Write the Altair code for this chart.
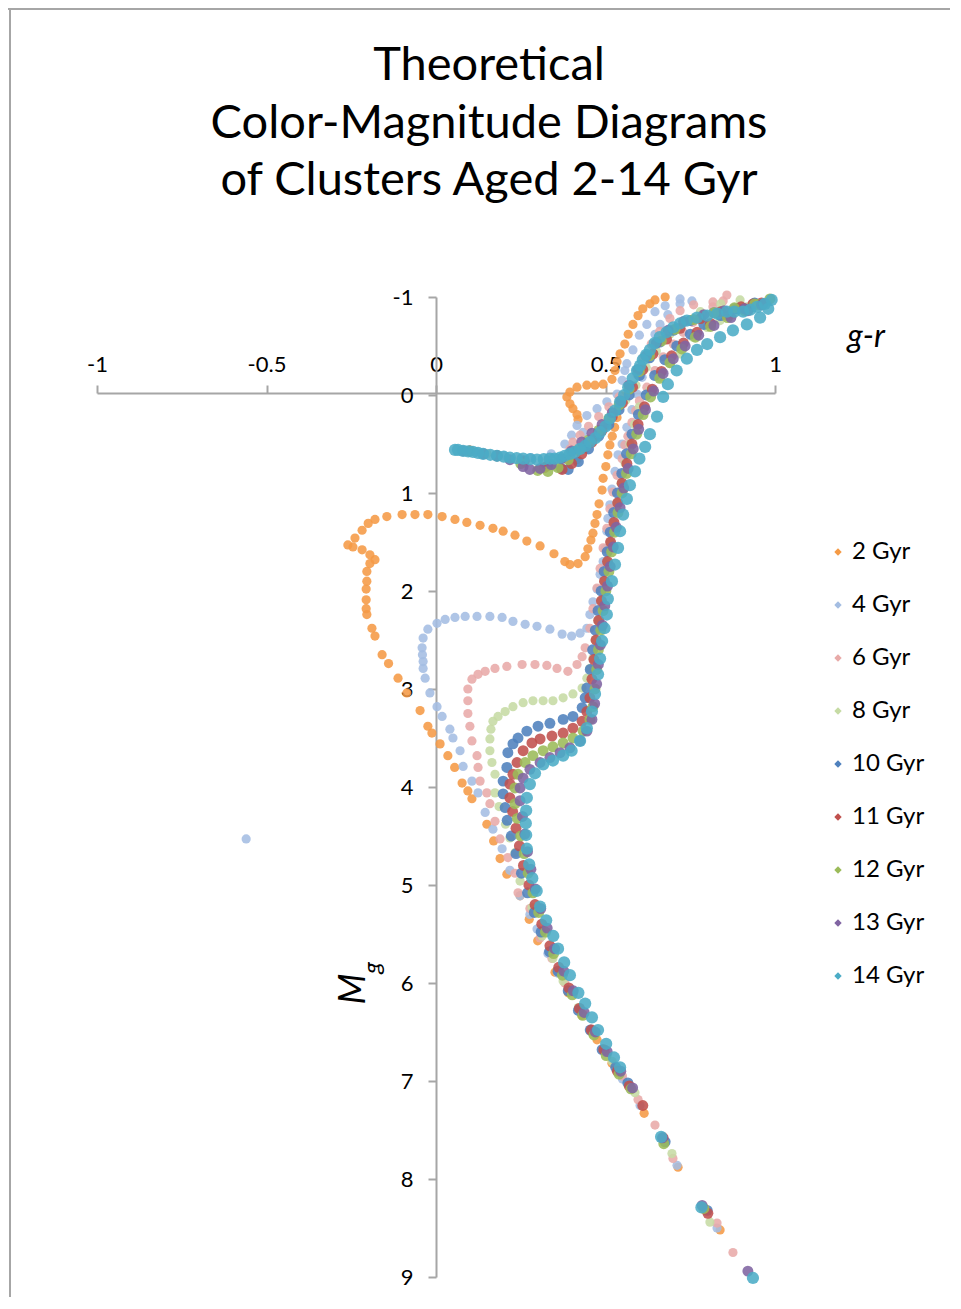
import altair as alt
import pandas as pd

series = ["2 Gyr", "4 Gyr", "6 Gyr", "8 Gyr", "10 Gyr", "11 Gyr", "12 Gyr", "13 Gyr", "14 Gyr"]
colors = ["#F59A45", "#A4BDE2", "#E8AAA8", "#C6DBA4", "#4F81BD", "#C0504D", "#9BBB59", "#8064A2", "#4BACC6"]
sizes = [85, 85, 85, 85, 120, 120, 120, 120, 150]

x_ticks = [-1, -0.5, 0, 0.5, 1]
y_ticks = [-1, 0, 1, 2, 3, 4, 5, 6, 7, 8, 9]

title_lines = ["Theoretical", "Color-Magnitude Diagrams", "of Clusters Aged 2-14 Gyr"]

# (g-r, M_g)
pts_2 = [(0.838, 8.52), (0.714, 7.88), (0.614, 7.33), (0.519, 6.82), (0.475, 6.58), (0.43, 6.33), (0.39, 6.1),
         (0.351, 5.89), (0.30, 5.57), (0.275, 5.35), (0.248, 5.11), (0.209, 4.89), (0.189, 4.73), (0.17, 4.55),
         (0.15, 4.38), (0.106, 4.12), (0.094, 4.04), (0.077, 3.96), (0.055, 3.8), (0.035, 3.68), (0.012, 3.56),
         (-0.012, 3.45), (-0.024, 3.38), (-0.047, 3.22), (-0.086, 3.04), (-0.112, 2.89), (-0.14, 2.74),
         (-0.159, 2.65), (-0.18, 2.46), (-0.189, 2.38), (-0.204, 2.24), (-0.206, 2.18), (-0.206, 2.09),
         (-0.206, 1.98), (-0.204, 1.90), (-0.204, 1.80), (-0.195, 1.72), (-0.18, 1.68), (-0.195, 1.63),
         (-0.218, 1.58), (-0.245, 1.55), (-0.26, 1.53), (-0.239, 1.46), (-0.218, 1.38), (-0.2, 1.31),
         (-0.18, 1.27), (-0.145, 1.24), (-0.10, 1.22), (-0.062, 1.22), (-0.024, 1.22), (0.018, 1.24),
         (0.056, 1.27), (0.091, 1.30), (0.13, 1.33), (0.168, 1.36), (0.198, 1.39), (0.233, 1.43), (0.268, 1.49),
         (0.307, 1.54), (0.348, 1.62), (0.38, 1.70), (0.395, 1.73), (0.419, 1.72), (0.44, 1.65), (0.448, 1.57),
         (0.457, 1.48), (0.463, 1.41), (0.469, 1.31), (0.475, 1.22), (0.481, 1.11), (0.49, 0.97), (0.493, 0.85),
         (0.501, 0.73), (0.507, 0.61), (0.513, 0.51), (0.52, 0.42), (0.527, 0.33), (0.534, 0.23), (0.541, 0.12),
         (0.548, 0.01), (0.419, 0.25), (0.416, 0.20), (0.404, 0.14), (0.395, 0.09), (0.386, 0.02), (0.395, -0.03),
         (0.416, -0.08), (0.445, -0.10), (0.469, -0.10), (0.493, -0.11), (0.519, -0.16), (0.528, -0.25),
         (0.534, -0.34), (0.543, -0.42), (0.557, -0.52), (0.567, -0.62), (0.581, -0.72), (0.596, -0.81),
         (0.61, -0.88), (0.631, -0.93), (0.646, -0.97), (0.676, -1.0)]

pts_4 = [(0.829, 8.5), (0.711, 7.86), (0.602, 7.25), (0.55, 6.98), (0.499, 6.71), (0.46, 6.48), (0.425, 6.25),
         (0.39, 6.07), (0.36, 5.9), (0.33, 5.7), (0.298, 5.45), (0.277, 5.3), (0.248, 5.11), (0.218, 4.85),
         (0.195, 4.63), (0.168, 4.43), (0.145, 4.26), (0.124, 4.06), (0.106, 3.94), (0.08, 3.79), (0.071, 3.63),
         (0.05, 3.50), (0.041, 3.41), (0.018, 3.28), (0.003, 3.18), (-0.018, 3.04), (-0.032, 2.89),
         (-0.038, 2.79), (-0.038, 2.72), (-0.040, 2.65), (-0.041, 2.58), (-0.038, 2.48), (-0.024, 2.39),
         (0.003, 2.33), (0.027, 2.29), (0.056, 2.27), (0.086, 2.26), (0.121, 2.26), (0.159, 2.26), (0.195, 2.27),
         (0.227, 2.31), (0.263, 2.34), (0.298, 2.36), (0.336, 2.39), (0.372, 2.44), (0.40, 2.46), (0.425, 2.43),
         (0.445, 2.38), (0.454, 2.24), (0.463, 2.11), (0.475, 1.98), (0.484, 1.83), (0.493, 1.70), (0.499, 1.57),
         (0.504, 1.39), (0.507, 1.26), (0.513, 1.12), (0.519, 0.96), (0.528, 0.78), (0.537, 0.61), (0.549, 0.50),
         (0.563, 0.33), (0.578, 0.15), (0.593, -0.01), (0.608, -0.18), (0.622, -0.36), (0.637, -0.51),
         (0.646, -0.62), (0.661, -0.72), (0.684, -0.82), (0.72, -0.93), (0.755, -0.96),
         (0.12, 0.58), (0.2, 0.62), (0.28, 0.64), (0.34, 0.6), (0.38, 0.5), (0.40, 0.41), (0.416, 0.31),
         (0.434, 0.38), (0.445, 0.21), (0.475, 0.14), (0.504, 0.07), (0.534, -0.01), (0.549, -0.15),
         (0.557, -0.25), (0.563, -0.32), (0.581, -0.46), (0.60, -0.61), (0.622, -0.72), (0.646, -0.85),
         (0.676, -0.91), (0.72, -0.98), (-0.56, 4.53)]

pts_6 = [(0.876, 8.75), (0.829, 8.45), (0.699, 7.79), (0.646, 7.45), (0.596, 7.19), (0.55, 6.95), (0.50, 6.68),
         (0.46, 6.47), (0.425, 6.28), (0.38, 6.0), (0.342, 5.75), (0.307, 5.54), (0.277, 5.24), (0.242, 5.08),
         (0.233, 4.88), (0.212, 4.72), (0.189, 4.53), (0.174, 4.35), (0.159, 4.17), (0.150, 4.06), (0.13, 3.94),
         (0.124, 3.8), (0.121, 3.68), (0.106, 3.53), (0.1, 3.38), (0.094, 3.25), (0.094, 3.12), (0.094, 3.0),
         (0.106, 2.9), (0.124, 2.85), (0.145, 2.82), (0.174, 2.79), (0.209, 2.77), (0.254, 2.75), (0.292, 2.75),
         (0.327, 2.76), (0.357, 2.79), (0.389, 2.82), (0.416, 2.75), (0.431, 2.67), (0.44, 2.58), (0.454, 2.38),
         (0.463, 2.18), (0.475, 1.97), (0.484, 1.77), (0.493, 1.56), (0.504, 1.36), (0.513, 1.16), (0.522, 0.99),
         (0.534, 0.82), (0.549, 0.65), (0.557, 0.51), (0.566, 0.42), (0.578, 0.28), (0.589, 0.16), (0.60, 0.06),
         (0.622, -0.08), (0.646, -0.25), (0.67, -0.39), (0.70, -0.52), (0.729, -0.64), (0.758, -0.74),
         (0.788, -0.82), (0.817, -0.9), (0.847, -0.96),
         (0.15, 0.6), (0.25, 0.65), (0.33, 0.66), (0.395, 0.55), (0.404, 0.48), (0.425, 0.41), (0.45, 0.32),
         (0.48, 0.22), (0.51, 0.12), (0.54, 0.02), (0.565, -0.1), (0.593, -0.21), (0.61, -0.38), (0.635, -0.52),
         (0.66, -0.65), (0.69, -0.78), (0.72, -0.86), (0.76, -0.92), (0.817, -0.95), (0.858, -1.02)]

pts_8 = [(0.808, 8.44), (0.696, 7.74), (0.587, 7.12), (0.52, 6.8), (0.463, 6.52), (0.42, 6.25), (0.375, 5.98),
         (0.345, 5.75), (0.313, 5.52), (0.283, 5.23), (0.248, 4.96), (0.233, 4.67), (0.218, 4.52), (0.205, 4.38),
         (0.186, 4.2), (0.174, 4.06), (0.174, 3.87), (0.165, 3.75), (0.159, 3.63), (0.159, 3.51), (0.162, 3.41),
         (0.168, 3.33), (0.183, 3.28), (0.204, 3.23), (0.227, 3.18), (0.257, 3.14), (0.286, 3.12), (0.316, 3.12),
         (0.345, 3.12), (0.375, 3.09), (0.404, 3.05), (0.431, 2.99), (0.445, 2.89), (0.454, 2.79), (0.463, 2.69),
         (0.47, 2.5), (0.478, 2.3), (0.487, 2.1), (0.496, 1.9), (0.505, 1.7), (0.514, 1.5), (0.523, 1.3),
         (0.534, 1.1), (0.546, 0.9), (0.558, 0.7), (0.572, 0.5), (0.586, 0.3), (0.60, 0.12), (0.631, -0.05),
         (0.661, -0.18), (0.69, -0.32), (0.72, -0.42), (0.758, -0.59), (0.80, -0.69), (0.838, -0.76),
         (0.876, -0.82), (0.917, -0.9),
         (0.15, 0.6), (0.25, 0.67), (0.35, 0.73), (0.416, 0.66), (0.44, 0.55), (0.47, 0.42), (0.5, 0.3),
         (0.53, 0.18), (0.56, 0.05), (0.59, -0.1), (0.62, -0.28), (0.65, -0.45), (0.69, -0.62), (0.73, -0.75),
         (0.78, -0.85), (0.84, -0.93), (0.897, -0.97)]

pts_10 = [(0.80, 8.32), (0.676, 7.62), (0.566, 7.02), (0.53, 6.86), (0.49, 6.68), (0.455, 6.48), (0.42, 6.28),
          (0.39, 6.08), (0.36, 5.88), (0.335, 5.68), (0.31, 5.48), (0.29, 5.28), (0.27, 5.08), (0.252, 4.88),
          (0.236, 4.68), (0.222, 4.5), (0.21, 4.34), (0.204, 4.21), (0.198, 4.07), (0.198, 3.94), (0.209, 3.8),
          (0.212, 3.65), (0.227, 3.56), (0.242, 3.5), (0.268, 3.43), (0.301, 3.38), (0.336, 3.35), (0.375, 3.31),
          (0.404, 3.28), (0.431, 3.19), (0.44, 3.09), (0.445, 2.99), (0.455, 2.8), (0.462, 2.6), (0.47, 2.4),
          (0.478, 2.2), (0.487, 2.0), (0.496, 1.8), (0.505, 1.6), (0.514, 1.4), (0.524, 1.2), (0.535, 1.0),
          (0.548, 0.8), (0.562, 0.6), (0.578, 0.4), (0.597, 0.2), (0.62, 0.0), (0.645, -0.2), (0.675, -0.36),
          (0.71, -0.5), (0.75, -0.62), (0.79, -0.72), (0.84, -0.81), (0.89, -0.88), (0.94, -0.94),
          (0.10, 0.57), (0.18, 0.62), (0.26, 0.67), (0.33, 0.72), (0.37, 0.75), (0.39, 0.76), (0.42, 0.68),
          (0.45, 0.55), (0.48, 0.42), (0.51, 0.3), (0.54, 0.15), (0.57, 0.0), (0.6, -0.2), (0.63, -0.38),
          (0.66, -0.54), (0.7, -0.66), (0.75, -0.76), (0.82, -0.84), (0.88, -0.88), (0.94, -0.93)]

pts_11 = [(0.802, 8.35), (0.67, 7.58), (0.61, 7.25), (0.57, 7.05), (0.535, 6.9), (0.495, 6.68), (0.458, 6.48),
          (0.423, 6.26), (0.392, 6.05), (0.362, 5.84), (0.336, 5.62), (0.312, 5.4), (0.292, 5.2), (0.274, 5.0),
          (0.258, 4.8), (0.246, 4.6), (0.236, 4.42), (0.226, 4.25), (0.218, 4.11), (0.218, 3.97), (0.227, 3.87),
          (0.239, 3.75), (0.257, 3.63), (0.283, 3.55), (0.307, 3.51), (0.342, 3.48), (0.375, 3.45), (0.404, 3.40),
          (0.431, 3.33), (0.445, 3.23), (0.454, 3.09), (0.46, 2.9), (0.466, 2.7), (0.472, 2.5), (0.48, 2.3),
          (0.488, 2.1), (0.497, 1.9), (0.506, 1.7), (0.515, 1.5), (0.525, 1.3), (0.536, 1.1), (0.549, 0.9),
          (0.563, 0.7), (0.578, 0.5), (0.596, 0.3), (0.615, 0.12), (0.638, -0.06), (0.665, -0.24), (0.695, -0.4),
          (0.73, -0.53), (0.77, -0.64), (0.81, -0.73), (0.86, -0.81), (0.91, -0.88), (0.96, -0.94),
          (0.10, 0.57), (0.18, 0.62), (0.26, 0.68), (0.32, 0.74), (0.372, 0.76), (0.40, 0.7), (0.43, 0.6),
          (0.46, 0.48), (0.49, 0.36), (0.52, 0.22), (0.55, 0.08), (0.58, -0.08), (0.61, -0.26), (0.64, -0.42),
          (0.68, -0.57), (0.72, -0.68), (0.78, -0.78), (0.84, -0.85), (0.90, -0.9), (0.935, -0.93)]

pts_12 = [(0.79, 8.3), (0.672, 7.64), (0.575, 7.08), (0.54, 6.93), (0.502, 6.74), (0.466, 6.53), (0.433, 6.33),
          (0.402, 6.12), (0.373, 5.92), (0.347, 5.7), (0.323, 5.48), (0.303, 5.28), (0.286, 5.08), (0.272, 4.88),
          (0.26, 4.68), (0.25, 4.5), (0.24, 4.32), (0.233, 4.17), (0.233, 4.01), (0.242, 3.87), (0.263, 3.75),
          (0.286, 3.68), (0.316, 3.63), (0.345, 3.59), (0.375, 3.55), (0.404, 3.50), (0.434, 3.43), (0.454, 3.31),
          (0.463, 3.18), (0.469, 3.0), (0.474, 2.8), (0.479, 2.6), (0.486, 2.4), (0.493, 2.2), (0.501, 2.0),
          (0.51, 1.8), (0.518, 1.6), (0.527, 1.4), (0.537, 1.2), (0.549, 1.0), (0.562, 0.8), (0.576, 0.6),
          (0.592, 0.4), (0.611, 0.2), (0.633, 0.02), (0.66, -0.17), (0.69, -0.33), (0.725, -0.47), (0.765, -0.59),
          (0.81, -0.7), (0.86, -0.79), (0.91, -0.86), (0.95, -0.92), (0.985, -0.98),
          (0.10, 0.57), (0.18, 0.62), (0.25, 0.7), (0.30, 0.77), (0.33, 0.78), (0.36, 0.74), (0.39, 0.66),
          (0.42, 0.56), (0.45, 0.46), (0.48, 0.36), (0.51, 0.24), (0.54, 0.1), (0.57, -0.06), (0.6, -0.24),
          (0.63, -0.4), (0.665, -0.55), (0.705, -0.67), (0.76, -0.77), (0.82, -0.84), (0.88, -0.89), (0.94, -0.93)]

pts_13 = [(0.92, 8.94), (0.785, 8.27), (0.668, 7.58), (0.58, 7.07), (0.545, 6.9), (0.505, 6.7), (0.47, 6.5),
          (0.437, 6.3), (0.405, 6.08), (0.377, 5.88), (0.35, 5.65), (0.328, 5.44), (0.309, 5.24), (0.293, 5.04),
          (0.28, 4.84), (0.27, 4.66), (0.262, 4.48), (0.255, 4.3), (0.248, 4.14), (0.248, 4.01), (0.257, 3.91),
          (0.277, 3.82), (0.307, 3.75), (0.336, 3.7), (0.366, 3.65), (0.395, 3.6), (0.425, 3.53), (0.445, 3.43),
          (0.46, 3.31), (0.468, 3.15), (0.474, 2.95), (0.479, 2.75), (0.485, 2.55), (0.491, 2.35), (0.498, 2.15),
          (0.506, 1.95), (0.514, 1.75), (0.523, 1.55), (0.532, 1.35), (0.543, 1.15), (0.554, 0.95), (0.567, 0.75),
          (0.582, 0.55), (0.598, 0.35), (0.618, 0.15), (0.642, -0.04), (0.67, -0.22), (0.7, -0.37), (0.735, -0.5),
          (0.775, -0.61), (0.82, -0.71), (0.87, -0.79), (0.92, -0.86), (0.965, -0.93),
          (0.08, 0.57), (0.14, 0.6), (0.18, 0.62), (0.218, 0.66), (0.257, 0.73), (0.277, 0.76), (0.307, 0.75),
          (0.34, 0.71), (0.37, 0.65), (0.40, 0.57), (0.43, 0.48), (0.46, 0.39), (0.49, 0.3), (0.52, 0.18),
          (0.545, 0.06), (0.57, -0.1), (0.595, -0.26), (0.62, -0.4), (0.65, -0.53), (0.685, -0.66), (0.73, -0.75),
          (0.79, -0.82), (0.85, -0.86), (0.91, -0.88), (0.96, -0.92)]

pts_14 = [(0.935, 9.01), (0.783, 8.29), (0.664, 7.57), (0.543, 6.86), (0.525, 6.76), (0.502, 6.62), (0.478, 6.48),
          (0.46, 6.35), (0.44, 6.21), (0.42, 6.10), (0.395, 5.92), (0.378, 5.79), (0.36, 5.65), (0.346, 5.52),
          (0.325, 5.36), (0.307, 5.22), (0.297, 5.06), (0.284, 4.93), (0.275, 4.79), (0.268, 4.63), (0.266, 4.49),
          (0.265, 4.37), (0.266, 4.24), (0.268, 4.11), (0.277, 3.97), (0.292, 3.86), (0.316, 3.77), (0.345, 3.73),
          (0.375, 3.68), (0.40, 3.63), (0.425, 3.53), (0.445, 3.40), (0.46, 3.23), (0.469, 3.05), (0.478, 2.85),
          (0.484, 2.69), (0.49, 2.51), (0.497, 2.38), (0.504, 2.24), (0.507, 2.08), (0.519, 1.90), (0.528, 1.73),
          (0.537, 1.56), (0.543, 1.39), (0.552, 1.22), (0.563, 1.06), (0.572, 0.92), (0.587, 0.78), (0.60, 0.65),
          (0.617, 0.53), (0.631, 0.40), (0.652, 0.22), (0.67, 0.02), (0.684, -0.11), (0.71, -0.25), (0.74, -0.37),
          (0.77, -0.46), (0.80, -0.52), (0.838, -0.59), (0.876, -0.66), (0.917, -0.72), (0.956, -0.79),
          (0.98, -0.88),
          (0.056, 0.56), (0.065, 0.56), (0.08, 0.57), (0.095, 0.575), (0.109, 0.58), (0.124, 0.59), (0.139, 0.60),
          (0.16, 0.61), (0.18, 0.62), (0.2, 0.63), (0.218, 0.64), (0.238, 0.645), (0.257, 0.65), (0.278, 0.655),
          (0.298, 0.66), (0.318, 0.655), (0.336, 0.65), (0.35, 0.65), (0.366, 0.64), (0.38, 0.62), (0.395, 0.60),
          (0.41, 0.58), (0.425, 0.55), (0.44, 0.52), (0.454, 0.48), (0.47, 0.44), (0.484, 0.38), (0.5, 0.32),
          (0.513, 0.24), (0.528, 0.16), (0.543, 0.07), (0.555, 0.0), (0.567, -0.08), (0.58, -0.17),
          (0.593, -0.25), (0.602, -0.3), (0.61, -0.36), (0.62, -0.41), (0.631, -0.46), (0.645, -0.53),
          (0.66, -0.59), (0.68, -0.64), (0.70, -0.69), (0.72, -0.73), (0.74, -0.76), (0.77, -0.79), (0.80, -0.81),
          (0.83, -0.83), (0.858, -0.85), (0.88, -0.85), (0.906, -0.85), (0.927, -0.87), (0.947, -0.90),
          (0.97, -0.93), (0.99, -0.97)]

all_pts = [pts_2, pts_4, pts_6, pts_8, pts_10, pts_11, pts_12, pts_13, pts_14]

AX = "#A6A6A6"
one = pd.DataFrame({"a": [0]})

x_enc = alt.X("gr:Q", scale=alt.Scale(domain=[-1, 1], nice=False, zero=False),
              axis=alt.Axis(orient="top", offset=-96, values=x_ticks, title=None, grid=False,
                            labelExpr="'' + datum.value", labelFont="Lato", labelFontSize=22,
                            labelColor="#000000", labelPadding=9, labelFlush=False, labelOverlap=False,
                            domainColor=AX, domainWidth=2, tickColor=AX, tickWidth=2, tickSize=8))
y_enc = alt.Y("mg:Q", scale=alt.Scale(domain=[-1, 9], nice=False, zero=False, reverse=True),
              axis=alt.Axis(orient="left", offset=-339, values=y_ticks, title=None, grid=False,
                            labelExpr="'' + datum.value", labelFont="Lato", labelFontSize=22,
                            labelColor="#000000", labelPadding=15, labelFlush=False, labelOverlap=False,
                            domainColor=AX, domainWidth=2, tickColor=AX, tickWidth=2, tickSize=8))
c_enc = alt.Color("series:N", scale=alt.Scale(domain=series, range=colors),
                  legend=alt.Legend(title=None, orient="none", legendX=729, legendY=243,
                                    symbolType="diamond", symbolSize=55, symbolOpacity=1,
                                    symbolStrokeWidth=0, labelFont="Lato", labelFontSize=24,
                                    labelColor="#000000", labelOffset=2, rowPadding=29, padding=0))

point_layers = []
for name, pts, sz in zip(series, all_pts, sizes):
    d = pd.DataFrame({"gr": [p[0] for p in pts], "mg": [p[1] for p in pts], "series": name})
    point_layers.append(
        alt.Chart(d).mark_circle(size=sz, opacity=0.88, strokeWidth=0).encode(x=x_enc, y=y_enc, color=c_enc))

border_left = alt.Chart(one).mark_rule(color=AX, strokeWidth=2).encode(
    x=alt.value(-87), y=alt.value(-289), y2=alt.value(1100))
border_top = alt.Chart(one).mark_rule(color=AX, strokeWidth=2).encode(
    y=alt.value(-288), x=alt.value(-89), x2=alt.value(1000))

title_layers = []
for i, line in enumerate(title_lines):
    title_layers.append(
        alt.Chart(one).mark_text(text=line, font="Lato", fontSize=47, color="#000000",
                                 align="center", baseline="alphabetic").encode(
            x=alt.value(392), y=alt.value(-217 + 57.5 * i)))

gr_label = alt.Chart(one).mark_text(text="g-r", font="Lato", fontSize=32, fontStyle="italic",
                                    color="#000000", align="center", baseline="middle").encode(
    x=alt.value(769), y=alt.value(40))
m_label = alt.Chart(one).mark_text(text="M", font="Lato", fontSize=36, fontStyle="italic", angle=270,
                                   color="#000000", align="center", baseline="middle").encode(
    x=alt.value(257), y=alt.value(692))
g_label = alt.Chart(one).mark_text(text="g", font="Lato", fontSize=24, fontStyle="italic", angle=270,
                                   color="#000000", align="center", baseline="middle").encode(
    x=alt.value(276), y=alt.value(671))

chart = alt.layer(border_left, border_top, *point_layers, *title_layers, gr_label, m_label, g_label).properties(
    width=678, height=980,
    autosize=alt.AutoSizeParams(type="none"),
    padding={"left": 89, "top": 289, "right": 175, "bottom": 20},
    background="#FFFFFF",
).configure_view(stroke="transparent", strokeWidth=0)

chart.save("out.html", embed_options={"renderer": "svg", "actions": False})
